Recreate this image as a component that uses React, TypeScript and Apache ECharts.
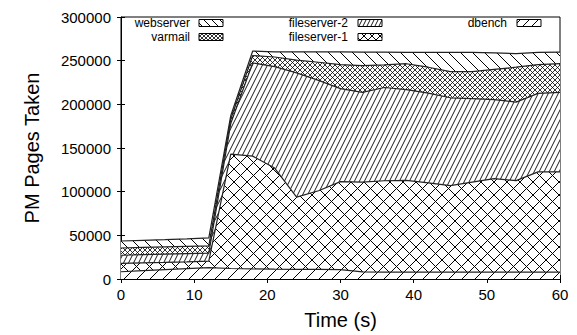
import React, { useEffect, useRef } from 'react';
import * as echarts from 'echarts';

const times = [0, 3, 6, 9, 12, 15, 18, 21, 24, 27, 30, 33, 36, 39, 42, 45, 48, 51, 54, 57, 60];
const dbench = [8300, 9500, 10700, 11900, 13000, 12000, 11500, 11200, 11000, 11000, 10800, 8200, 7800, 7800, 7800, 7800, 7800, 7800, 7800, 7800, 7800];
const fileserver1 = [9500, 9000, 8300, 7800, 7500, 131000, 129200, 115800, 82800, 90000, 100700, 102800, 104700, 105200, 102200, 99200, 103200, 107200, 104800, 114900, 114900];
const fileserver2 = [9400, 9300, 9400, 9300, 9100, 35000, 106700, 116200, 142200, 126500, 106500, 102700, 106800, 103800, 102800, 100500, 95500, 90500, 89900, 89800, 91000];
const varmail = [8300, 8300, 8300, 8300, 8400, 5000, 8500, 11000, 14700, 20700, 27500, 30600, 25900, 29700, 29700, 30000, 31000, 34500, 40000, 33000, 32900];
const webserver = [8000, 8200, 8400, 8700, 9000, 4000, 5100, 5800, 9500, 11800, 14500, 15500, 14600, 13000, 17000, 22000, 22000, 19000, 15500, 14000, 13200];

const FONT = '"Liberation Sans", Arial, Helvetica, sans-serif';

type Seg = [number, number, number, number];

function makeTile(w: number, h: number, segs: Seg[], lw = 1) {
  const c = document.createElement('canvas');
  c.width = w;
  c.height = h;
  const ctx = c.getContext('2d')!;
  ctx.fillStyle = '#fff';
  ctx.fillRect(0, 0, w, h);
  ctx.strokeStyle = '#000';
  ctx.lineWidth = lw;
  for (const [x1, y1, x2, y2] of segs) {
    for (const dx of [-w, 0, w]) {
      for (const dy of [-h, 0, h]) {
        ctx.beginPath();
        ctx.moveTo(x1 + dx, y1 + dy);
        ctx.lineTo(x2 + dx, y2 + dy);
        ctx.stroke();
      }
    }
  }
  return { image: c.toDataURL(), repeat: 'repeat', imageWidth: w, imageHeight: h };
}

const slash = (p: number, lw = 1) => makeTile(p, p, [[0, p, p, 0]], lw);
const backslash = (p: number, lw = 1) => makeTile(p, p, [[0, 0, p, p]], lw);
const cross = (p: number, lw = 1) => makeTile(p, p, [[0, p, p, 0], [0, 0, p, p]], lw);
const steep = (w: number, lw = 1) => makeTile(w, 2 * w, [[0, 2 * w, w, 0]], lw);

export default function App() {
  const ref = useRef<HTMLDivElement>(null);

  useEffect(() => {
    if (!ref.current) return;
    const chart = echarts.init(ref.current, null, { renderer: 'svg' });

    const pats = {
      dbench: slash(13),
      fs1: cross(13),
      fs2: steep(5, 0.9),
      varmail: cross(5, 0.8),
      webserver: backslash(12),
    };
    const sw = {
      dbench: slash(9),
      fs1: cross(8),
      fs2: steep(4, 0.9),
      varmail: cross(4, 0.8),
      webserver: backslash(8),
    };

    // bottom-to-top stacking order
    const layers = [
      { name: 'dbench', data: dbench, pat: pats.dbench },
      { name: 'fileserver-1', data: fileserver1, pat: pats.fs1 },
      { name: 'fileserver-2', data: fileserver2, pat: pats.fs2 },
      { name: 'varmail', data: varmail, pat: pats.varmail },
      { name: 'webserver', data: webserver, pat: pats.webserver },
    ];
    // cumulative tops
    const running = times.map(() => 0);
    const stacked = layers.map((l) => {
      const tops = l.data.map((v, i) => (running[i] += v));
      return { ...l, tops };
    });
    // draw top layer first so lower layers (opaque patterns) cover below
    const drawOrder = stacked.slice().reverse();

    const legendItems = [
      { name: 'webserver', tx: 190, sx: 199, y: 22.5, pat: sw.webserver },
      { name: 'varmail', tx: 190, sx: 199, y: 36.5, pat: sw.varmail },
      { name: 'fileserver-2', tx: 348, sx: 358, y: 22.5, pat: sw.fs2 },
      { name: 'fileserver-1', tx: 348, sx: 358, y: 36.5, pat: sw.fs1 },
      { name: 'dbench', tx: 507, sx: 517, y: 22.5, pat: sw.dbench },
    ];

    const graphics: any[] = [];
    legendItems.forEach((it) => {
      graphics.push({
        type: 'text',
        z: 100,
        x: it.tx,
        y: it.y,
        style: {
          text: it.name,
          align: 'right',
          verticalAlign: 'middle',
          fontSize: 12,
          fontFamily: FONT,
          fill: '#000',
        },
      });
      graphics.push({
        type: 'rect',
        z: 100,
        shape: { x: it.sx, y: Math.round(it.y - 3.5) + 0.5, width: 24, height: 7 },
        style: { fill: it.pat, stroke: '#000', lineWidth: 1 },
      });
    });

    const axisCommon = {
      type: 'value' as const,
      splitLine: { show: false },
      axisTick: { show: true, inside: true, length: 4, lineStyle: { color: '#000' } },
    };

    chart.setOption({
      animation: false,
      backgroundColor: '#fff',
      grid: {
        left: 121,
        right: 17,
        top: 17,
        bottom: 51,
        show: true,
        borderColor: '#000',
        borderWidth: 1,
        backgroundColor: 'transparent',
      },
      xAxis: [
        {
          ...axisCommon,
          min: 0,
          max: 60,
          interval: 10,
          name: 'Time (s)',
          nameLocation: 'middle',
          nameGap: 31,
          nameTextStyle: { fontSize: 20, fontFamily: FONT, color: '#000' },
          axisLine: { show: true, lineStyle: { color: '#000' } },
          axisLabel: { fontSize: 15, fontFamily: FONT, color: '#000', margin: 8 },
        },
        {
          ...axisCommon,
          position: 'top',
          min: 0,
          max: 60,
          interval: 10,
          axisLine: { show: false },
          axisLabel: { show: false },
        },
      ],
      yAxis: [
        {
          ...axisCommon,
          min: 0,
          max: 300000,
          interval: 50000,
          name: 'PM Pages Taken',
          nameLocation: 'middle',
          nameGap: 79,
          nameTextStyle: { fontSize: 20, fontFamily: FONT, color: '#000' },
          axisLine: { show: true, lineStyle: { color: '#000' } },
          axisLabel: {
            fontSize: 15,
            fontFamily: FONT,
            color: '#000',
            margin: 10,
            formatter: (v: number) => String(v),
          },
        },
        {
          ...axisCommon,
          position: 'right',
          min: 0,
          max: 300000,
          interval: 50000,
          axisLine: { show: false },
          axisLabel: { show: false },
        },
      ],
      series: drawOrder.map((s) => ({
        name: s.name,
        type: 'line',
        xAxisIndex: 0,
        yAxisIndex: 0,
        symbol: 'none',
        data: times.map((t, i) => [t, s.tops[i]]),
        lineStyle: { color: '#222', width: 1.2 },
        areaStyle: { color: s.pat as any, opacity: 1 },
        z: 2,
      })),
      graphic: graphics,
    });

    return () => chart.dispose();
  }, []);

  return (
    <div
      ref={ref}
      style={{ position: 'absolute', left: 0, top: 0, width: 577, height: 335 }}
    />
  );
}
